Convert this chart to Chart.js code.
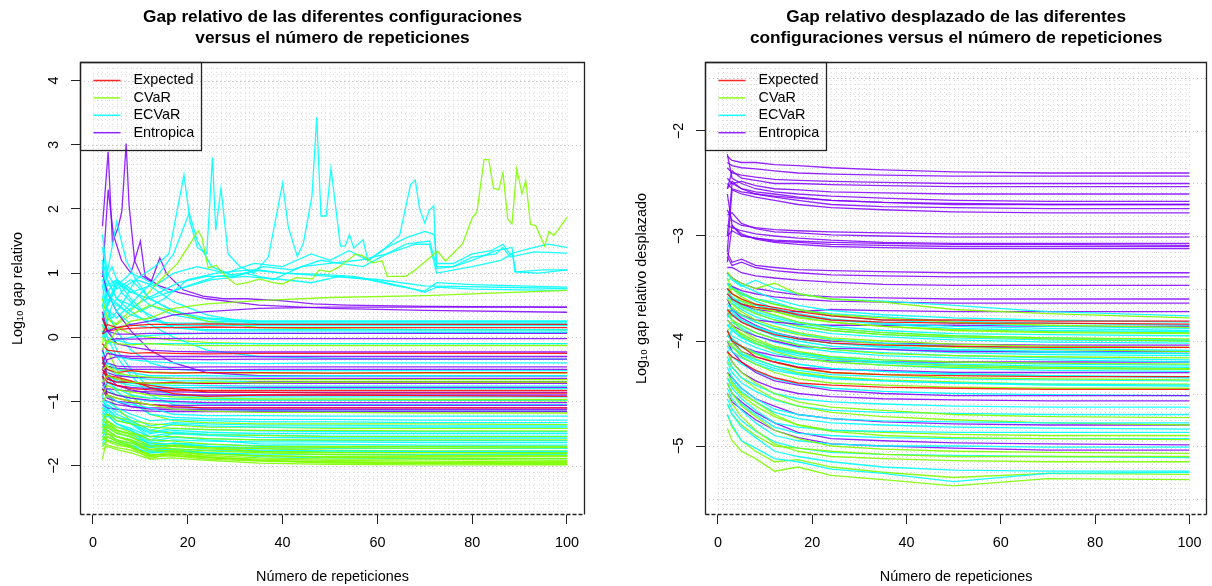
<!DOCTYPE html>
<html>
<head>
<meta charset="utf-8">
<title>Gap relativo</title>
<script src="https://cdn.jsdelivr.net/npm/chart.js@4.4.1/dist/chart.umd.min.js"></script>
<style>
  body { margin: 0; width: 1212px; height: 586px; overflow: hidden; background: #fff; position: relative; }
  .panel { position: absolute; top: 0; width: 606px; height: 586px; }
  #leftPanel { left: 0; }
  #rightPanel { left: 606px; }
</style>
</head>
<body>
<div class="panel" id="leftPanel"><canvas id="gapChart" width="606" height="586"></canvas></div>
<div class="panel" id="rightPanel"><canvas id="shiftChart" width="606" height="586"></canvas></div>
<script>
// Repeticiones en las que se muestrea cada configuración
const XS = [2, 3, 5, 8, 12, 17, 24, 35, 50, 70, 100];
const X_TICKS = [0, 20, 40, 60, 80, 100];
const GAP_TICKS = [-2, -1, 0, 1, 2, 3, 4];
const SHIFT_TICKS = [-5, -4, -3, -2];
const METHODS = ['Expected', 'CVaR', 'ECVaR', 'Entropica'];

// ---- Log10 gap relativo (valores en XS) ----
const gapExpected = [
  [0.05, 0.2, 0.15, 0.18, 0.2, 0.2, 0.21, 0.2, 0.2, 0.2, 0.2],
  [0.3, 0.1, 0.12, 0.14, 0.15, 0.15, 0.16, 0.15, 0.15, 0.15, 0.15],
  [-0.1, -0.2, -0.22, -0.25, -0.24, -0.25, -0.26, -0.25, -0.25, -0.25, -0.25],
  [-0.4, -0.5, -0.55, -0.52, -0.55, -0.56, -0.55, -0.55, -0.56, -0.55, -0.55],
  [-0.5, -0.6, -0.65, -0.7, -0.75, -0.8, -0.85, -0.86, -0.87, -0.87, -0.87],
  [-0.55, -0.6, -0.62, -0.68, -0.78, -0.88, -0.92, -0.9, -0.9, -0.91, -0.92],
  [-0.8, -0.9, -0.95, -1.0, -1.05, -1.08, -1.1, -1.1, -1.1, -1.1, -1.1],
  [-0.3, -0.65, -0.7, -0.7, -0.72, -0.7, -0.72, -0.7, -0.7, -0.7, -0.7],
  [-0.6, -0.7, -0.75, -0.8, -0.82, -0.83, -0.83, -0.83, -0.83, -0.83, -0.83]
];
const gapCVaR = [
  [0.0, -0.1, 0.1, 0.25, 0.3, 0.45, 0.52, 0.57, 0.62, 0.65, 0.73],
  [-0.2, -0.05, -0.1, -0.12, -0.1, -0.12, -0.13, -0.13, -0.13, -0.13, -0.13],
  [-0.5, -0.45, -0.55, -0.6, -0.62, -0.64, -0.65, -0.66, -0.66, -0.66, -0.66],
  [-0.7, -0.6, -0.65, -0.7, -0.72, -0.72, -0.7, -0.71, -0.7, -0.7, -0.7],
  [-0.9, -0.75, -0.82, -0.85, -0.9, -0.93, -0.95, -0.96, -0.96, -0.97, -0.97],
  [-1.0, -0.9, -0.95, -1.0, -1.05, -1.12, -1.15, -1.17, -1.17, -1.18, -1.18],
  [-1.3, -1.2, -1.3, -1.35, -1.4, -1.42, -1.44, -1.45, -1.45, -1.46, -1.46],
  [-1.5, -1.3, -1.45, -1.5, -1.55, -1.55, -1.58, -1.6, -1.6, -1.6, -1.6],
  [-1.6, -1.5, -1.55, -1.62, -1.75, -1.7, -1.72, -1.73, -1.72, -1.73, -1.72],
  [-1.9, -1.55, -1.62, -1.7, -1.85, -1.78, -1.84, -1.88, -1.9, -1.9, -1.92],
  [-1.7, -1.6, -1.65, -1.72, -1.89, -1.8, -1.86, -1.92, -1.96, -1.97, -1.98],
  [-1.45, -1.4, -1.5, -1.55, -1.7, -1.68, -1.72, -1.78, -1.8, -1.8, -1.81],
  [-1.2, -1.3, -1.4, -1.48, -1.6, -1.62, -1.66, -1.7, -1.7, -1.7, -1.7],
  [-1.35, -1.5, -1.6, -1.65, -1.75, -1.78, -1.82, -1.85, -1.86, -1.86, -1.86],
  [-1.55, -1.62, -1.68, -1.72, -1.82, -1.84, -1.88, -1.92, -1.94, -1.95, -1.95],
  [-1.1, -1.2, -1.25, -1.3, -1.35, -1.37, -1.4, -1.4, -1.42, -1.42, -1.42],
  [-1.4, -1.45, -1.55, -1.6, -1.72, -1.74, -1.77, -1.8, -1.83, -1.84, -1.84],
  [-1.65, -1.68, -1.72, -1.76, -1.86, -1.85, -1.9, -1.93, -1.95, -1.96, -1.97],
  [-0.6, -0.9, -1.1, -1.3, -1.45, -1.5, -1.52, -1.53, -1.55, -1.55, -1.55],
  [0.2, -0.2, -0.5, -0.9, -1.2, -1.3, -1.33, -1.35, -1.35, -1.35, -1.36],
  [0.6, 0.3, 0.2, 0.35, 0.5, 0.4, 0.25, 0.15, 0.13, 0.12, 0.12],
  [-0.1, 0.3, 0.15, 0.05, 0.0, -0.05, -0.08, -0.1, -0.1, -0.1, -0.1],
  [-1.75, -1.7, -1.75, -1.8, -1.9, -1.88, -1.92, -1.96, -1.98, -1.99, -1.99],
  [-1.5, -1.45, -1.55, -1.62, -1.8, -1.76, -1.8, -1.84, -1.87, -1.88, -1.89],
  [-1.6, -1.55, -1.62, -1.68, -1.84, -1.82, -1.87, -1.9, -1.92, -1.93, -1.94],
  [-1.3, -1.35, -1.45, -1.52, -1.65, -1.66, -1.7, -1.74, -1.76, -1.77, -1.77],
  [-1.4, -1.38, -1.48, -1.56, -1.68, -1.7, -1.74, -1.77, -1.79, -1.79, -1.8],
  [-0.8, -0.85, -0.9, -0.92, -0.95, -0.96, -0.97, -0.98, -0.98, -0.98, -0.99],
  [-0.35, -0.45, -0.5, -0.52, -0.54, -0.55, -0.55, -0.56, -0.56, -0.56, -0.56]
];
const gapECVaR = [
  [0.9, 0.6, 0.5, 0.35, 0.25, 0.22, 0.22, 0.22, 0.22, 0.22, 0.22],
  [0.5, 0.7, 0.4, 0.2, 0.15, 0.18, 0.18, 0.18, 0.18, 0.18, 0.18],
  [1.0, 0.8, 0.9, 0.6, 0.3, 0.15, 0.12, 0.12, 0.12, 0.12, 0.12],
  [0.2, 0.0, -0.05, 0.0, 0.03, 0.05, 0.06, 0.06, 0.06, 0.07, 0.07],
  [0.1, -0.1, -0.05, -0.1, -0.1, -0.1, -0.1, -0.1, -0.1, -0.1, -0.1],
  [-0.3, -0.2, -0.3, -0.35, -0.38, -0.4, -0.4, -0.41, -0.4, -0.4, -0.4],
  [-0.5, -0.4, -0.5, -0.55, -0.6, -0.6, -0.6, -0.61, -0.6, -0.6, -0.6],
  [-0.6, -0.55, -0.7, -0.75, -0.78, -0.78, -0.79, -0.8, -0.8, -0.8, -0.8],
  [-0.8, -0.7, -0.8, -0.9, -0.95, -0.96, -0.97, -0.98, -0.98, -0.98, -0.98],
  [-1.0, -0.9, -1.0, -1.05, -1.1, -1.2, -1.22, -1.22, -1.23, -1.23, -1.23],
  [-1.1, -1.0, -1.1, -1.2, -1.3, -1.28, -1.3, -1.32, -1.32, -1.33, -1.33],
  [-1.2, -1.05, -1.2, -1.3, -1.45, -1.35, -1.38, -1.4, -1.4, -1.4, -1.4],
  [-1.3, -1.15, -1.3, -1.35, -1.5, -1.45, -1.48, -1.5, -1.5, -1.5, -1.5],
  [-1.4, -1.3, -1.4, -1.45, -1.6, -1.5, -1.53, -1.56, -1.57, -1.57, -1.57],
  [-1.5, -1.4, -1.5, -1.55, -1.65, -1.6, -1.62, -1.63, -1.63, -1.64, -1.64],
  [-1.6, -1.5, -1.6, -1.65, -1.72, -1.68, -1.7, -1.72, -1.73, -1.73, -1.73],
  [-1.7, -1.6, -1.65, -1.7, -1.8, -1.78, -1.8, -1.82, -1.83, -1.83, -1.83],
  [-0.2, -0.6, -0.85, -1.0, -1.2, -1.25, -1.27, -1.28, -1.28, -1.29, -1.29],
  [0.5, 0.2, -0.2, -0.5, -0.8, -0.9, -0.93, -0.93, -0.93, -0.93, -0.93],
  [0.8, 0.4, 0.1, -0.2, -0.4, -0.5, -0.52, -0.52, -0.52, -0.52, -0.52],
  [1.2, 0.9, 0.6, 0.4, 0.2, 0.0, -0.2, -0.3, -0.33, -0.34, -0.34],
  [-1.0, -1.1, -1.25, -1.35, -1.55, -1.55, -1.6, -1.66, -1.67, -1.68, -1.68],
  [-0.9, -1.2, -1.35, -1.45, -1.68, -1.65, -1.7, -1.76, -1.77, -1.78, -1.78],
  [-1.35, -1.45, -1.55, -1.6, -1.78, -1.75, -1.8, -1.86, -1.88, -1.89, -1.89],
  [1.1, 0.7, 0.9, 0.75, 0.5, 0.35, 0.25, 0.24, 0.24, 0.24, 0.24],
  [0.6, 1.0, 0.75, 0.9, 0.6, 0.4, 0.3, 0.25, 0.25, 0.25, 0.25],
  [0.3, 0.5, 0.85, 0.7, 0.8, 0.55, 0.35, 0.2, 0.2, 0.2, 0.2],
  [1.4, 0.9, 0.6, 0.5, 0.35, 0.15, 0.1, 0.1, 0.1, 0.1, 0.1],
  [-1.15, -1.05, -1.15, -1.25, -1.38, -1.33, -1.35, -1.37, -1.37, -1.38, -1.38],
  [-1.25, -1.12, -1.25, -1.33, -1.48, -1.42, -1.44, -1.46, -1.47, -1.47, -1.47],
  [-1.35, -1.22, -1.35, -1.42, -1.55, -1.48, -1.51, -1.53, -1.54, -1.54, -1.54],
  [-1.45, -1.35, -1.45, -1.5, -1.62, -1.56, -1.58, -1.6, -1.61, -1.61, -1.61],
  [-1.55, -1.45, -1.55, -1.6, -1.7, -1.65, -1.67, -1.69, -1.7, -1.7, -1.7],
  [-1.65, -1.55, -1.62, -1.68, -1.76, -1.74, -1.76, -1.78, -1.79, -1.79, -1.8],
  [-0.7, -0.6, -0.68, -0.72, -0.74, -0.75, -0.75, -0.76, -0.76, -0.76, -0.76],
  [-0.4, -0.5, -0.58, -0.62, -0.66, -0.68, -0.68, -0.69, -0.69, -0.69, -0.69],
  [-0.9, -0.8, -0.9, -0.95, -1.0, -1.02, -1.04, -1.05, -1.05, -1.05, -1.05],
  [0.3, 0.0, -0.3, -0.6, -0.9, -1.05, -1.12, -1.14, -1.15, -1.15, -1.15]
];
const gapEntropica = [
  [0.05, 0.1, 0.15, 0.2, 0.25, 0.35, 0.4, 0.45, 0.47, 0.47, 0.47],
  [0.3, 0.1, 0.05, 0.05, 0.06, 0.06, 0.06, 0.06, 0.06, 0.06, 0.06],
  [-0.2, -0.05, -0.02, -0.03, -0.02, -0.02, -0.02, -0.02, -0.02, -0.02, -0.02],
  [0.4, 0.1, -0.1, -0.15, -0.2, -0.22, -0.23, -0.23, -0.23, -0.23, -0.23],
  [-0.4, -0.25, -0.28, -0.3, -0.3, -0.3, -0.3, -0.3, -0.3, -0.3, -0.3],
  [-0.5, -0.35, -0.3, -0.33, -0.34, -0.34, -0.35, -0.34, -0.34, -0.34, -0.34],
  [-0.2, -0.4, -0.45, -0.46, -0.46, -0.47, -0.46, -0.46, -0.46, -0.46, -0.46],
  [-0.6, -0.45, -0.48, -0.5, -0.5, -0.5, -0.51, -0.5, -0.5, -0.5, -0.5],
  [-0.5, -0.65, -0.7, -0.7, -0.72, -0.72, -0.72, -0.72, -0.72, -0.72, -0.72],
  [-0.9, -0.7, -0.75, -0.78, -0.8, -0.79, -0.78, -0.78, -0.78, -0.78, -0.78],
  [-0.7, -0.85, -0.9, -0.95, -0.98, -1.0, -1.02, -1.02, -1.02, -1.02, -1.02],
  [-0.8, -0.95, -1.0, -1.02, -1.05, -1.06, -1.06, -1.06, -1.06, -1.06, -1.06],
  [-0.95, -1.0, -1.05, -1.08, -1.1, -1.1, -1.1, -1.1, -1.1, -1.1, -1.1],
  [-0.6, -0.9, -1.0, -1.08, -1.12, -1.13, -1.13, -1.13, -1.13, -1.13, -1.13],
  [-1.05, -1.1, -1.12, -1.14, -1.15, -1.16, -1.16, -1.16, -1.16, -1.16, -1.16],
  [1.0, 0.7, 0.4, 0.1, -0.2, -0.4, -0.55, -0.6, -0.6, -0.6, -0.6],
  [-0.3, -0.6, -0.75, -0.82, -0.88, -0.9, -0.9, -0.9, -0.9, -0.9, -0.9],
  [-0.75, -0.8, -0.82, -0.84, -0.85, -0.85, -0.86, -0.86, -0.86, -0.86, -0.86],
  [-0.45, -0.55, -0.6, -0.62, -0.63, -0.64, -0.64, -0.64, -0.64, -0.64, -0.64]
];

// Configuraciones con picos: pares [repeticiones, log10 gap]
const gapCVaRPeaks = [
  [[2, 0.1], [4, 0.15], [7, 0.35], [10, 0.55], [13, 0.8], [15, 0.95], [17.7, 1.14], [20, 1.4], [22.2, 1.66], [23, 1.55],
   [24.3, 1.08], [26, 1.12], [28, 0.95], [30.2, 0.82], [33, 0.86], [35.1, 0.91], [38, 0.85], [40, 0.83], [42.8, 0.93],
   [46.3, 0.91], [47.7, 1.05], [50, 1.02], [52, 1.1], [55.5, 1.3], [56.9, 1.27], [59, 1.16], [61, 1.19], [62.1, 0.95],
   [66, 0.95], [68, 1.05], [70.9, 1.23], [72.7, 1.34], [74.4, 1.19], [78, 1.46], [80, 1.86], [81, 1.95], [82.5, 2.77],
   [83.5, 2.77], [84.5, 2.32], [85.6, 2.3], [86.5, 2.56], [87.5, 1.84], [88.4, 1.77], [89.4, 2.62], [90.5, 2.24],
   [91.3, 2.44], [92.3, 1.76], [93.4, 1.74], [95.3, 1.42], [96.2, 1.65], [97.2, 1.59], [98.1, 1.67], [100, 1.87]]
];
const gapECVaRPeaks = [
  [[2, 0.0], [4, 0.5], [7, 0.8], [10, 0.95], [13, 1.1], [16, 1.3], [19.2, 2.53], [20.5, 1.8], [22, 1.4], [24, 1.3],
   [25.2, 2.8], [25.9, 1.67], [27, 2.32], [28.5, 1.3], [31, 1.1], [34, 1.0], [37, 1.25], [40, 2.4], [41.2, 1.72],
   [43.1, 1.26], [44.4, 1.47], [46.2, 2.2], [47.2, 3.43], [48.1, 1.89], [49.2, 1.89], [50.2, 2.63], [52.2, 1.42],
   [53.2, 1.42], [54.1, 1.6], [55, 1.39], [57, 1.52], [58, 1.19], [61, 1.35], [64.7, 1.59], [67, 2.38], [68, 2.45],
   [68.9, 2.0], [70, 1.78], [70.9, 1.97], [71.9, 2.05], [72.4, 1.07], [76, 1.1], [80, 1.2], [85, 1.35], [88.4, 1.4],
   [89, 1.02], [94, 1.0], [100, 1.05]],
  [[2, 0.6], [4, 0.3], [6, 0.5], [9, 0.9], [13, 0.8], [17, 1.0], [22, 1.1], [28, 1.0], [34, 1.15], [40, 1.1], [46, 1.3],
   [50, 1.2], [54, 1.35], [58, 1.2], [62, 1.4], [66, 1.55], [70, 1.65], [72, 1.6], [72.6, 1.15], [76, 1.15], [80, 1.3],
   [84, 1.35], [86.5, 1.45], [88, 1.3], [92, 1.38], [96, 1.45], [100, 1.4]],
  [[2, 0.9], [4, 0.6], [7, 0.4], [10, 0.55], [14, 0.7], [18, 0.85], [24, 0.95], [30, 0.95], [36, 1.1], [42, 1.05],
   [48, 1.2], [52, 1.15], [57, 1.1], [62, 1.3], [66, 1.45], [71, 1.5], [72.5, 1.1], [76, 1.1], [80, 1.25], [85, 1.3],
   [86.5, 1.4], [88, 1.25], [93, 1.33], [100, 1.31]],
  [[2, 0.3], [5, 0.8], [8, 1.0], [11, 0.9], [16, 0.7], [20, 0.8], [26, 0.95], [32, 1.0], [38, 0.9], [44, 1.1], [50, 1.15],
   [56, 1.2], [62, 1.3], [68, 1.45], [71, 1.45], [72.5, 1.0], [80, 1.1], [86, 1.2], [88.5, 1.3], [89.2, 1.02], [95, 1.05],
   [100, 1.05]],
  [[2, 1.2], [3, 0.5], [5, 0.9], [8, 0.7], [12, 0.6], [18, 0.75], [25, 0.9], [32, 0.95], [40, 0.9], [46, 0.85], [52, 0.95],
   [58, 0.9], [64, 0.8], [70, 0.72], [72.5, 0.85], [80, 0.82], [90, 0.8], [100, 0.78]],
  [[2, 0.8], [4, 1.1], [6, 0.7], [10, 0.4], [15, 0.6], [20, 0.9], [26, 1.0], [33, 1.05], [40, 1.0], [48, 0.98], [55, 0.95],
   [60, 0.88], [66, 0.78], [70, 0.7], [72.5, 0.78], [80, 0.75], [90, 0.74], [100, 0.73]],
  [[2, 1.6], [3, 1.0], [5, 1.8], [7, 1.2], [9, 0.9], [12, 0.6], [16, 0.45], [22, 0.3], [30, 0.25], [45, 0.25], [70, 0.25],
   [100, 0.25]],
  [[2, 0.5], [5, 0.3], [9, 0.6], [13, 0.9], [17, 1.3], [20.3, 1.94], [22, 1.5], [25, 1.1], [30, 0.95], [35, 1.05],
   [40, 1.0], [50, 0.95], [60, 0.9], [70, 0.8], [100, 0.76]]
];
const gapEntropicaPeaks = [
  [[2, 1.73], [3.2, 2.89], [4.1, 1.48], [5.3, 1.71], [6.1, 1.97], [7, 3.02], [7.6, 2.07], [8.8, 1.19], [10.2, 0.96],
   [12.3, 0.87], [14.1, 1.24], [15.5, 0.99], [19, 0.74], [23.2, 0.64], [27.5, 0.6], [32.4, 0.6], [39.5, 0.57],
   [46.5, 0.52], [53.6, 0.5], [70, 0.48], [100, 0.47]],
  [[2, 0.94], [3.2, 2.3], [4.3, 1.6], [6, 1.2], [8, 1.0], [10, 1.5], [11, 0.95], [14, 0.8], [18, 0.7], [24, 0.6],
   [35, 0.5], [50, 0.45], [70, 0.42], [100, 0.39]]
];

// ---- Log10 gap relativo desplazado (valores en XS) ----
const shiftExpected = [
  [-3.5, -3.55, -3.6, -3.65, -3.68, -3.72, -3.76, -3.8, -3.8, -3.81, -3.81],
  [-3.55, -3.6, -3.65, -3.68, -3.7, -3.75, -3.8, -3.82, -3.83, -3.83, -3.84],
  [-3.9, -4.0, -4.05, -4.15, -4.2, -4.25, -4.3, -4.32, -4.33, -4.34, -4.34],
  [-3.7, -3.75, -3.82, -3.88, -3.94, -3.98, -4.02, -4.04, -4.05, -4.06, -4.06],
  [-4.1, -4.15, -4.2, -4.28, -4.35, -4.4, -4.42, -4.44, -4.45, -4.46, -4.46]
];
const shiftCVaR = [
  [-3.34, -3.4, -3.45, -3.5, -3.45, -3.55, -3.6, -3.63, -3.7, -3.74, -3.78],
  [-3.4, -3.5, -3.55, -3.6, -3.65, -3.7, -3.75, -3.78, -3.82, -3.85, -3.87],
  [-3.5, -3.55, -3.62, -3.7, -3.75, -3.82, -3.88, -3.92, -3.95, -3.97, -3.98],
  [-3.6, -3.65, -3.72, -3.8, -3.86, -3.92, -3.97, -4.0, -4.03, -4.05, -4.06],
  [-3.7, -3.8, -3.85, -3.92, -3.98, -4.04, -4.08, -4.12, -4.14, -4.15, -4.16],
  [-3.8, -3.85, -3.95, -4.02, -4.1, -4.16, -4.2, -4.23, -4.25, -4.26, -4.27],
  [-3.9, -4.0, -4.05, -4.12, -4.2, -4.26, -4.3, -4.32, -4.35, -4.36, -4.37],
  [-4.0, -4.05, -4.15, -4.22, -4.3, -4.36, -4.4, -4.42, -4.44, -4.45, -4.45],
  [-4.1, -4.2, -4.3, -4.4, -4.5, -4.58, -4.63, -4.66, -4.7, -4.72, -4.73],
  [-4.3, -4.4, -4.5, -4.58, -4.7, -4.8, -4.86, -4.9, -4.92, -4.93, -4.94],
  [-4.4, -4.5, -4.62, -4.72, -4.85, -4.93, -5.0, -5.03, -5.05, -5.06, -5.07],
  [-4.5, -4.6, -4.72, -4.85, -4.98, -5.05, -5.1, -5.12, -5.14, -5.15, -5.15],
  [-4.83, -4.95, -5.05, -5.12, -5.24, -5.2, -5.28, -5.32, -5.38, -5.31, -5.32],
  [-3.45, -3.55, -3.6, -3.68, -3.72, -3.78, -3.82, -3.86, -3.9, -3.92, -3.93],
  [-3.75, -3.8, -3.9, -3.98, -4.05, -4.1, -4.15, -4.18, -4.2, -4.21, -4.22],
  [-4.2, -4.25, -4.35, -4.45, -4.55, -4.62, -4.68, -4.72, -4.75, -4.78, -4.8],
  [-4.6, -4.7, -4.8, -4.9, -5.0, -5.02, -5.05, -5.08, -5.1, -5.1, -5.1],
  [-3.55, -3.5, -3.58, -3.65, -3.72, -3.77, -3.82, -3.86, -3.89, -3.91, -3.92],
  [-3.72, -3.68, -3.75, -3.82, -3.89, -3.94, -3.99, -4.03, -4.06, -4.08, -4.1],
  [-3.9, -3.86, -3.93, -4.0, -4.07, -4.12, -4.17, -4.2, -4.23, -4.25, -4.26],
  [-4.05, -4.02, -4.1, -4.17, -4.24, -4.3, -4.34, -4.37, -4.39, -4.41, -4.41],
  [-4.35, -4.42, -4.52, -4.62, -4.72, -4.8, -4.85, -4.87, -4.89, -4.9, -4.9],
  [-4.7, -4.82, -4.95, -5.05, -5.15, -5.13, -5.2, -5.25, -5.3, -5.26, -5.27],
  [-3.65, -3.6, -3.67, -3.74, -3.8, -3.86, -3.9, -3.94, -3.96, -3.98, -4.0]
];
const shiftECVaR = [
  [-3.36, -3.42, -3.48, -3.42, -3.5, -3.55, -3.6, -3.62, -3.66, -3.72, -3.76],
  [-3.45, -3.5, -3.56, -3.6, -3.65, -3.7, -3.76, -3.8, -3.83, -3.86, -3.88],
  [-3.55, -3.6, -3.66, -3.72, -3.78, -3.83, -3.88, -3.92, -3.95, -3.97, -3.99],
  [-3.65, -3.7, -3.76, -3.82, -3.88, -3.93, -3.98, -4.02, -4.05, -4.07, -4.09],
  [-3.75, -3.8, -3.86, -3.92, -3.98, -4.03, -4.08, -4.11, -4.14, -4.16, -4.18],
  [-3.85, -3.9, -3.96, -4.02, -4.08, -4.12, -4.16, -4.2, -4.22, -4.24, -4.25],
  [-3.95, -4.0, -4.06, -4.12, -4.18, -4.22, -4.26, -4.29, -4.31, -4.33, -4.34],
  [-4.05, -4.1, -4.16, -4.22, -4.28, -4.32, -4.36, -4.38, -4.4, -4.41, -4.42],
  [-4.15, -4.25, -4.35, -4.42, -4.5, -4.55, -4.58, -4.6, -4.62, -4.63, -4.63],
  [-4.25, -4.35, -4.45, -4.55, -4.65, -4.7, -4.74, -4.76, -4.77, -4.78, -4.78],
  [-4.35, -4.45, -4.55, -4.66, -4.78, -4.82, -4.85, -4.86, -4.87, -4.87, -4.87],
  [-4.45, -4.55, -4.66, -4.78, -4.9, -4.95, -4.98, -5.0, -5.0, -5.01, -5.01],
  [-4.6, -4.7, -4.82, -4.92, -5.05, -5.1, -5.15, -5.2, -5.23, -5.24, -5.24],
  [-4.7, -4.8, -4.95, -5.02, -5.12, -5.15, -5.22, -5.26, -5.34, -5.26, -5.25],
  [-3.5, -3.6, -3.62, -3.66, -3.7, -3.76, -3.8, -3.84, -3.88, -3.9, -3.91],
  [-3.7, -3.72, -3.8, -3.86, -3.92, -3.98, -4.02, -4.05, -4.08, -4.1, -4.12],
  [-3.9, -3.95, -4.0, -4.06, -4.12, -4.16, -4.2, -4.23, -4.26, -4.28, -4.29],
  [-4.0, -4.05, -4.12, -4.18, -4.24, -4.28, -4.32, -4.34, -4.36, -4.37, -4.38],
  [-4.2, -4.3, -4.4, -4.48, -4.56, -4.62, -4.66, -4.68, -4.69, -4.7, -4.7],
  [-4.4, -4.5, -4.6, -4.7, -4.82, -4.88, -4.9, -4.92, -4.93, -4.93, -4.93],
  [-3.42, -3.4, -3.47, -3.53, -3.6, -3.66, -3.71, -3.75, -3.78, -3.8, -3.82],
  [-3.52, -3.48, -3.55, -3.62, -3.69, -3.74, -3.79, -3.83, -3.86, -3.88, -3.9],
  [-3.6, -3.58, -3.64, -3.7, -3.76, -3.82, -3.86, -3.9, -3.93, -3.94, -3.95],
  [-3.68, -3.64, -3.7, -3.77, -3.83, -3.88, -3.93, -3.96, -3.99, -4.01, -4.02],
  [-3.78, -3.74, -3.8, -3.87, -3.93, -3.98, -4.02, -4.06, -4.09, -4.11, -4.12],
  [-3.86, -3.82, -3.88, -3.95, -4.01, -4.06, -4.1, -4.14, -4.16, -4.18, -4.2],
  [-3.95, -3.9, -3.97, -4.03, -4.09, -4.14, -4.18, -4.21, -4.24, -4.26, -4.27],
  [-4.02, -3.98, -4.05, -4.11, -4.17, -4.22, -4.26, -4.29, -4.32, -4.33, -4.35],
  [-4.1, -4.06, -4.13, -4.2, -4.26, -4.31, -4.35, -4.38, -4.4, -4.42, -4.43],
  [-4.2, -4.15, -4.22, -4.29, -4.36, -4.41, -4.45, -4.48, -4.5, -4.51, -4.52],
  [-3.46, -3.5, -3.54, -3.6, -3.63, -3.7, -3.74, -3.77, -3.81, -3.83, -3.85],
  [-3.58, -3.62, -3.68, -3.74, -3.8, -3.85, -3.9, -3.94, -3.97, -3.99, -4.0],
  [-3.72, -3.76, -3.82, -3.88, -3.95, -4.0, -4.05, -4.08, -4.11, -4.13, -4.14],
  [-3.84, -3.88, -3.94, -4.0, -4.06, -4.11, -4.15, -4.18, -4.2, -4.22, -4.23],
  [-4.3, -4.38, -4.48, -4.58, -4.68, -4.74, -4.78, -4.8, -4.82, -4.83, -4.84],
  [-4.55, -4.65, -4.76, -4.86, -4.96, -5.02, -5.06, -5.08, -5.09, -5.1, -5.11]
];
const shiftEntropica = [
  [-2.24, -2.28, -2.3, -2.3, -2.32, -2.33, -2.35, -2.37, -2.39, -2.4, -2.4],
  [-2.3, -2.33, -2.35, -2.36, -2.38, -2.4, -2.41, -2.42, -2.43, -2.43, -2.43],
  [-2.35, -2.4, -2.42, -2.44, -2.46, -2.47, -2.48, -2.49, -2.5, -2.5, -2.5],
  [-2.55, -2.38, -2.45, -2.47, -2.5, -2.5, -2.51, -2.52, -2.53, -2.53, -2.53],
  [-2.45, -2.5, -2.48, -2.52, -2.55, -2.56, -2.58, -2.59, -2.6, -2.6, -2.6],
  [-2.22, -2.45, -2.5, -2.55, -2.58, -2.6, -2.62, -2.64, -2.66, -2.67, -2.67],
  [-2.55, -2.48, -2.55, -2.58, -2.6, -2.63, -2.66, -2.68, -2.7, -2.7, -2.7],
  [-2.5, -2.55, -2.58, -2.6, -2.63, -2.66, -2.7, -2.72, -2.73, -2.74, -2.74],
  [-3.15, -2.56, -2.6, -2.63, -2.66, -2.7, -2.73, -2.75, -2.77, -2.78, -2.78],
  [-2.75, -2.85, -2.9, -2.92, -2.94, -2.95, -2.96, -2.97, -2.98, -2.98, -2.98],
  [-2.8, -2.78, -2.88, -2.93, -2.96, -2.97, -2.99, -3.0, -3.01, -3.01, -3.01],
  [-2.9, -2.92, -2.95, -2.98, -3.0, -3.02, -3.04, -3.06, -3.07, -3.07, -3.07],
  [-3.0, -2.95, -3.0, -3.02, -3.05, -3.06, -3.08, -3.09, -3.1, -3.1, -3.1],
  [-3.25, -2.9, -2.98, -3.03, -3.06, -3.08, -3.1, -3.11, -3.12, -3.12, -3.12],
  [-2.6, -2.9, -3.0, -3.02, -3.04, -3.05, -3.06, -3.07, -3.08, -3.08, -3.09],
  [-3.0, -2.5, -2.55, -2.6, -2.62, -2.64, -2.66, -2.68, -2.69, -2.7, -2.7],
  [-3.16, -3.25, -3.22, -3.28, -3.3, -3.32, -3.33, -3.34, -3.35, -3.35, -3.35],
  [-3.2, -3.28, -3.25, -3.3, -3.33, -3.35, -3.37, -3.38, -3.39, -3.39, -3.39],
  [-3.3, -3.3, -3.35, -3.38, -3.4, -3.42, -3.44, -3.46, -3.47, -3.47, -3.47],
  [-3.35, -3.4, -3.45, -3.5, -3.53, -3.56, -3.58, -3.59, -3.6, -3.6, -3.6],
  [-3.45, -3.48, -3.52, -3.55, -3.58, -3.6, -3.62, -3.63, -3.64, -3.64, -3.64],
  [-3.5, -3.6, -3.65, -3.7, -3.72, -3.72, -3.7, -3.71, -3.72, -3.72, -3.72],
  [-3.6, -3.7, -3.75, -3.8, -3.82, -3.84, -3.85, -3.85, -3.85, -3.86, -3.86],
  [-3.8, -3.85, -3.9, -3.95, -4.0, -4.05, -4.07, -4.08, -4.1, -4.1, -4.1],
  [-3.9, -4.0, -4.1, -4.15, -4.2, -4.25, -4.27, -4.28, -4.3, -4.3, -4.3],
  [-4.0, -4.1, -4.2, -4.3, -4.38, -4.42, -4.47, -4.5, -4.52, -4.52, -4.52],
  [-4.1, -4.2, -4.3, -4.38, -4.45, -4.5, -4.53, -4.55, -4.56, -4.57, -4.57],
  [-4.3, -4.35, -4.45, -4.55, -4.62, -4.7, -4.74, -4.77, -4.79, -4.8, -4.8],
  [-4.4, -4.5, -4.58, -4.68, -4.78, -4.87, -4.93, -4.95, -4.97, -4.98, -4.99],
  [-4.5, -4.58, -4.65, -4.75, -4.85, -4.92, -4.98, -5.0, -5.02, -5.04, -5.04],
  [-3.75, -3.7, -3.78, -3.85, -3.92, -3.97, -4.0, -4.02, -4.03, -4.04, -4.04],
  [-3.95, -3.98, -4.05, -4.1, -4.14, -4.17, -4.19, -4.2, -4.2, -4.2, -4.2]
];

// rainbow(4) de R, algo translúcido
const COLORS = ['rgba(255,0,0,0.85)', 'rgba(128,255,0,0.9)', 'rgba(0,255,255,0.9)', 'rgba(128,0,255,0.85)'];
const FONT = "'Liberation Sans', Arimo, Helvetica, Arial, sans-serif";

Chart.defaults.font.family = FONT;
Chart.defaults.font.size = 14.4;
Chart.defaults.color = '#000';

function sampled(line) {
  return line.map((y, i) => ({ x: XS[i], y: y }));
}
function paired(line) {
  return line.map(p => ({ x: p[0], y: p[1] }));
}

// intercala las configuraciones de los cuatro métodos, como en el gráfico base de R
function buildDatasets(groups, peaks) {
  const sets = [];
  const n = Math.max(...groups.map(g => g.length));
  for (let i = 0; i < n; i++) {
    groups.forEach((g, m) => {
      if (g[i]) sets.push({ data: sampled(g[i]), borderColor: COLORS[m] });
    });
  }
  peaks.forEach((g, m) => {
    g.forEach(line => sets.push({ data: paired(line), borderColor: COLORS[m] }));
  });
  return sets;
}

function fmtTick(v) {
  return v < 0 ? '\u2212' + Math.abs(v) : String(v);
}

// rejilla punteada fina + líneas principales
const dotGrid = {
  id: 'dotGrid',
  beforeDatasetsDraw(chart, args, o) {
    const { ctx, chartArea: a, scales: { x, y } } = chart;
    ctx.save();
    ctx.lineWidth = 1;
    ctx.setLineDash([1, 3]);
    ctx.strokeStyle = '#dcdcdc';
    const xl = x.getPixelForValue(o.xFrom), xr = x.getPixelForValue(o.xTo);
    const yb = y.getPixelForValue(o.yFrom), yt = y.getPixelForValue(o.yTo);
    ctx.beginPath();
    for (let v = o.xFrom; v <= o.xTo; v += o.xStep) {
      const px = Math.round(x.getPixelForValue(v)) + 0.5;
      ctx.moveTo(px, yt);
      ctx.lineTo(px, yb);
    }
    const n = Math.round((o.yTo - o.yFrom) / o.yStep);
    for (let i = 0; i <= n; i++) {
      const py = Math.round(y.getPixelForValue(o.yFrom + i * o.yStep)) + 0.5;
      ctx.moveTo(xl, py);
      ctx.lineTo(xr, py);
    }
    ctx.stroke();
    ctx.strokeStyle = '#c4c4c4';
    ctx.beginPath();
    const m = Math.round((o.majorTo - o.majorFrom) / o.majorStep);
    for (let i = 0; i <= m; i++) {
      const py = Math.round(y.getPixelForValue(o.majorFrom + i * o.majorStep)) + 0.5;
      ctx.moveTo(a.left, py);
      ctx.lineTo(a.right, py);
    }
    ctx.stroke();
    ctx.restore();
  }
};

// marco del gráfico, con el borde inferior discontinuo
const boxFrame = {
  id: 'boxFrame',
  afterDraw(chart) {
    const { ctx, chartArea: a } = chart;
    const l = Math.round(a.left) + 0.5, r = Math.round(a.right) - 0.5;
    const t = Math.round(a.top) + 0.5, b = Math.round(a.bottom) - 0.5;
    ctx.save();
    ctx.strokeStyle = '#222';
    ctx.lineWidth = 1.3;
    ctx.beginPath();
    ctx.moveTo(l, b); ctx.lineTo(l, t); ctx.lineTo(r, t); ctx.lineTo(r, b);
    ctx.stroke();
    ctx.setLineDash([4, 2]);
    ctx.beginPath();
    ctx.moveTo(l, b); ctx.lineTo(r, b);
    ctx.stroke();
    ctx.restore();
  }
};

// leyenda en la esquina superior izquierda
const methodLegend = {
  id: 'methodLegend',
  afterDraw(chart) {
    const { ctx, chartArea: a } = chart;
    const l = Math.round(a.left) + 0.5, t = Math.round(a.top) + 0.5;
    ctx.save();
    ctx.strokeStyle = '#222';
    ctx.lineWidth = 1.3;
    ctx.strokeRect(l, t, 121, 88);
    ctx.font = '14.4px ' + FONT;
    ctx.textBaseline = 'middle';
    ctx.fillStyle = '#000';
    METHODS.forEach((name, i) => {
      const yy = t + 18 + i * 17.4;
      ctx.strokeStyle = COLORS[i];
      ctx.lineWidth = 1.5;
      ctx.beginPath();
      ctx.moveTo(l + 13, yy);
      ctx.lineTo(l + 40, yy);
      ctx.stroke();
      ctx.fillText(name, l + 53, yy);
    });
    ctx.restore();
  }
};

function makeChart(id, cfg) {
  return new Chart(document.getElementById(id).getContext('2d'), {
    type: 'line',
    data: { datasets: buildDatasets(cfg.groups, cfg.peaks) },
    options: {
      responsive: false,
      animation: false,
      events: [],
      normalized: true,
      layout: { padding: { left: 0, right: cfg.padRight, top: 0, bottom: 0 } },
      datasets: { line: { borderWidth: 1.3, pointRadius: 0, tension: 0, fill: false } },
      plugins: {
        legend: { display: false },
        tooltip: { enabled: false },
        title: {
          display: true,
          fullSize: false,
          text: cfg.title,
          color: '#000',
          font: { size: 17.28, weight: 'bold', lineHeight: '21px' },
          padding: { top: 6.5, bottom: 13.5 }
        },
        dotGrid: cfg.grid
      },
      scales: {
        x: {
          type: 'linear',
          min: -2.74,
          max: 103.8,
          afterBuildTicks: s => { s.ticks = X_TICKS.map(v => ({ value: v })); },
          afterFit: s => { s.height = 71; },
          ticks: { autoSkip: false, maxRotation: 0, padding: 10.4, color: '#000', font: { size: 14.4 } },
          grid: { drawOnChartArea: false, tickLength: 9, color: '#222' },
          border: { display: false },
          title: { display: true, text: 'Número de repeticiones', color: '#000', font: { size: 14.4 }, padding: { top: 0, bottom: 0.4 } }
        },
        y: {
          type: 'linear',
          min: cfg.yMin,
          max: cfg.yMax,
          afterBuildTicks: s => { s.ticks = cfg.ticks.map(v => ({ value: v })); },
          afterFit: s => { s.width = cfg.axisWidth; },
          ticks: {
            minRotation: 90, maxRotation: 90, crossAlign: 'center', padding: 9, color: '#000',
            font: { size: 14.4 }, callback: v => fmtTick(v)
          },
          grid: { drawOnChartArea: false, tickLength: 9, color: '#222' },
          border: { display: false },
          title: { display: true, text: cfg.yTitle, color: '#000', font: { size: 14.4 }, padding: { top: cfg.yTitlePad, bottom: 0 } }
        }
      }
    },
    plugins: [dotGrid, boxFrame, methodLegend]
  });
}

makeChart('gapChart', {
  groups: [gapExpected, gapCVaR, gapECVaR, gapEntropica],
  peaks: [[], gapCVaRPeaks, gapECVaRPeaks, gapEntropicaPeaks],
  title: ['Gap relativo de las diferentes configuraciones', 'versus el número de repeticiones'],
  yTitle: 'Log\u2081\u2080 gap relativo',
  yMin: -2.77, yMax: 4.29,
  ticks: GAP_TICKS,
  axisWidth: 80, yTitlePad: 8.9, padRight: 21,
  grid: { xFrom: 0, xTo: 100, xStep: 1, yFrom: -2.7, yTo: 4.2, yStep: 0.1, majorFrom: -2, majorTo: 4, majorStep: 1 }
});

makeChart('shiftChart', {
  groups: [shiftExpected, shiftCVaR, shiftECVaR, shiftEntropica],
  peaks: [[], [], [], []],
  title: ['Gap relativo desplazado de las diferentes', 'configuraciones versus el número de repeticiones'],
  yTitle: 'Log\u2081\u2080 gap relativo desplazado',
  yMin: -5.657, yMax: -1.343,
  ticks: SHIFT_TICKS,
  axisWidth: 99, yTitlePad: 27.4, padRight: 2,
  grid: { xFrom: 0, xTo: 100, xStep: 1, yFrom: -5.6, yTo: -1.4, yStep: 0.05, majorFrom: -5.5, majorTo: -1.5, majorStep: 0.5 }
});
</script>
</body>
</html>
